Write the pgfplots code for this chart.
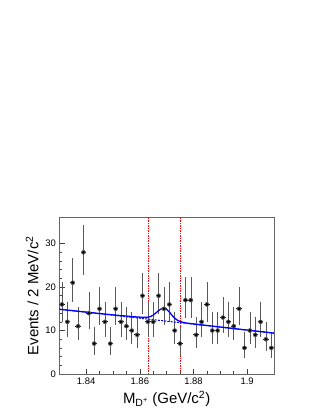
\documentclass[border=0pt]{standalone}
\usepackage{pgfplots}
\usepackage{pgfplotstable}
\pgfplotsset{compat=1.18}
\usepackage{fontspec}
\setmainfont{Liberation Sans}

% bin centre, events, Poisson errors (up, down)
\pgfplotstableread{
x     y  ep    em
1.831 16 5.078 3.954
1.833 12 4.554 3.411
1.835 21 5.651 4.542
1.837 11 4.411 3.261
1.839 28 6.350 5.257
1.841 14 4.825 3.692
1.843 7  3.763 2.576
1.845 15 4.954 3.825
1.847 12 4.554 3.411
1.849 7  3.763 2.576
1.851 15 4.954 3.825
1.853 12 4.554 3.411
1.855 11 4.411 3.261
1.857 10 4.261 3.104
1.859 9  4.104 2.939
1.861 18 5.316 4.199
1.863 12 4.554 3.411
1.865 12 4.554 3.411
1.867 18 5.316 4.199
1.869 15 4.954 3.825
1.871 16 5.078 3.954
1.873 10 4.261 3.104
1.875 7  3.763 2.576
1.877 17 5.199 4.078
1.879 17 5.199 4.078
1.881 9  4.104 2.939
1.883 12 4.554 3.411
1.885 16 5.078 3.954
1.887 10 4.261 3.104
1.889 10 4.261 3.104
1.891 13 4.692 3.554
1.893 12 4.554 3.411
1.895 11 4.411 3.261
1.897 15 4.954 3.825
1.899 6  3.577 2.375
1.901 10 4.261 3.104
1.903 9  4.104 2.939
1.905 12 4.554 3.411
1.907 8  3.938 2.764
1.909 6  3.577 2.375
}\datatable

\pgfplotstableread{
x      y
1.8634 0
1.8634 36
}\winlo
\pgfplotstableread{
x      y
1.8752 0
1.8752 36
}\winhi

\begin{document}
\begin{tikzpicture}
\useasboundingbox (0,0) rectangle (322bp,416bp);
\begin{axis}[
  scale only axis,
  width=214.7bp, height=156.5bp,
  at={(59.3bp,42bp)}, anchor=south west,
  xmin=1.83, xmax=1.91, ymin=0, ymax=36,
  xtick={1.84,1.86,1.88,1.9},
  xticklabels={1.84,1.86,1.88,1.9},
  ytick={0,10,20,30},
  minor x tick num=3, minor y tick num=4,
  tick align=inside,
  xtick pos=bottom, ytick pos=left,
  major tick length=5.5bp, minor tick length=2.8bp,
  axis line style={black!60, line width=0.7bp},
  every tick/.style={black!75, line width=0.6bp},
  tick label style={font=\fontsize{9.5}{11}\selectfont},
  /pgf/number format/assume math mode=true,
  label style={font=\fontsize{15}{17}\selectfont},
  xlabel={M\textsubscript{D\textsuperscript{+}} (GeV/c\textsuperscript{2})},
  ylabel={Events / 2 MeV/c\textsuperscript{2}},
  clip=true,
]
% signal window
\addplot[draw=red, mark=none, line width=0.9bp, dash pattern=on 1.5bp off 1bp] table[x=x, y=y] {\winlo};
\addplot[draw=red, mark=none, line width=0.9bp, dash pattern=on 1.5bp off 1bp] table[x=x, y=y] {\winhi};

% data: vertical Poisson bars
\addplot[black!65, line width=0.6bp, only marks, mark=none,
  error bars/.cd, y dir=both, y explicit, error mark=none,
  error bar style={black!65, line width=0.6bp}]
  table[x=x, y=y, y error plus=ep, y error minus=em] {\datatable};
% data: bin width bars and markers
\addplot[black, only marks, mark=*, mark size=1.2bp,
  error bars/.cd, x dir=both, x fixed=0.001, error mark=none,
  error bar style={black, line width=1bp}]
  table[x=x, y=y] {\datatable};

% background
\addplot[blue, line width=1bp, dash pattern=on 2bp off 1.2bp] coordinates {
  (1.830,14.90) (1.910,9.40)
};
% total fit
\addplot[blue, line width=1.3bp, smooth, tension=0.4] coordinates {
  (1.830,14.90) (1.840,14.24) (1.850,13.60) (1.855,13.32) (1.858,13.16)
  (1.860,13.08) (1.861,13.04) (1.862,13.03) (1.863,13.07) (1.864,13.22)
  (1.865,13.55) (1.866,14.05) (1.867,14.58) (1.868,14.98) (1.869,15.12)
  (1.870,14.85) (1.871,14.25) (1.872,13.50) (1.873,12.85) (1.874,12.38)
  (1.875,12.08) (1.876,11.90) (1.877,11.77) (1.878,11.67) (1.880,11.52)
  (1.890,10.81) (1.900,10.10) (1.910,9.40)
};
\end{axis}
\end{tikzpicture}
\end{document}
